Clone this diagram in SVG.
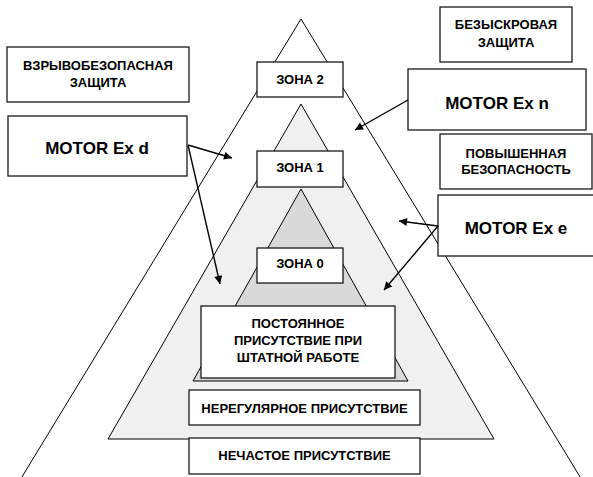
<svg xmlns="http://www.w3.org/2000/svg" width="593" height="477" viewBox="0 0 593 477">
<style>
.box{fill:#fff;stroke:#1a1a1a;stroke-width:1.3}
.t{font-family:"Liberation Sans",Arial,sans-serif;font-weight:bold;font-size:13px;fill:#000;text-anchor:middle}
.m{font-family:"Liberation Sans",Arial,sans-serif;font-weight:bold;font-size:17px;fill:#000;text-anchor:middle}
.tri{stroke:#000;stroke-width:1}
.c{stroke:#000;stroke-width:1.4;fill:none;marker-end:url(#ah)}
</style>
<defs>
<marker id="ah" viewBox="0 0 10 10" refX="10" refY="5" markerWidth="10" markerHeight="8" markerUnits="userSpaceOnUse" orient="auto">
<path d="M0,0 L10,5 L0,10 z" fill="#000"/>
</marker>
</defs>
<rect width="593" height="477" fill="#fff"/>
<g id="pyramid">
<polygon class="tri" points="301,19 17,485 585,485" fill="#fff"/>
<polygon class="tri" points="301,104 108,439 494,439" fill="#f0f0f0"/>
<polygon class="tri" points="301,189 193,381 408,381" fill="#d9d9d9"/>
</g>
<g id="vzryv"><rect class="box" x="7" y="47" width="182" height="55"/><text class="t" x="98" y="69.5">ВЗРЫВОБЕЗОПАСНАЯ</text><text class="t" x="98" y="86.5">ЗАЩИТА</text></g>
<g id="motor-d"><rect class="box" x="8" y="116" width="179" height="60"/><text class="m" x="97" y="154">MOTOR Ex d</text></g>
<g id="zona2"><rect class="box" x="257" y="62" width="86" height="35"/><text class="t" x="300" y="83.5">ЗОНА 2</text></g>
<g id="zona1"><rect class="box" x="257" y="151" width="86" height="36"/><text class="t" x="300" y="171.5">ЗОНА 1</text></g>
<g id="zona0"><rect class="box" x="257" y="248" width="86" height="35"/><text class="t" x="300" y="267.5">ЗОНА 0</text></g>
<g id="postoyannoe"><rect class="box" x="201" y="306" width="194" height="72"/><text class="t" x="298" y="327.5">ПОСТОЯННОЕ</text><text class="t" x="298" y="344.5">ПРИСУТСТВИЕ ПРИ</text><text class="t" x="298" y="361.5">ШТАТНОЙ РАБОТЕ</text></g>
<g id="nereg"><rect class="box" x="189" y="390" width="231" height="35"/><text class="t" x="304.5" y="412.5">НЕРЕГУЛЯРНОЕ ПРИСУТСТВИЕ</text></g>
<g id="nechast"><rect class="box" x="189" y="438" width="231" height="36"/><text class="t" x="304.5" y="460">НЕЧАСТОЕ ПРИСУТСТВИЕ</text></g>
<g id="bezyskr"><rect class="box" x="440" y="7" width="132" height="55"/><text class="t" x="506" y="28.5">БЕЗЫСКРОВАЯ</text><text class="t" x="506" y="46.5">ЗАЩИТА</text></g>
<g id="motor-n"><rect class="box" x="408" y="69" width="178" height="61"/><text class="m" x="497" y="109">MOTOR Ex n</text></g>
<g id="povysh"><rect class="box" x="440" y="134" width="152" height="55"/><text class="t" x="516" y="157.5">ПОВЫШЕННАЯ</text><text class="t" x="516" y="173.5">БЕЗОПАСНОСТЬ</text></g>
<g id="motor-e"><rect class="box" x="438" y="195" width="160" height="61"/><text class="m" x="516" y="234">MOTOR Ex e</text></g>
<g id="connectors">
<line class="c" x1="188" y1="145" x2="232" y2="158"/>
<line class="c" x1="188" y1="145" x2="220" y2="284"/>
<line class="c" x1="408" y1="100" x2="355" y2="130"/>
<line class="c" x1="438" y1="226" x2="399" y2="221"/>
<line class="c" x1="438" y1="226" x2="384" y2="290"/>
</g>
</svg>
